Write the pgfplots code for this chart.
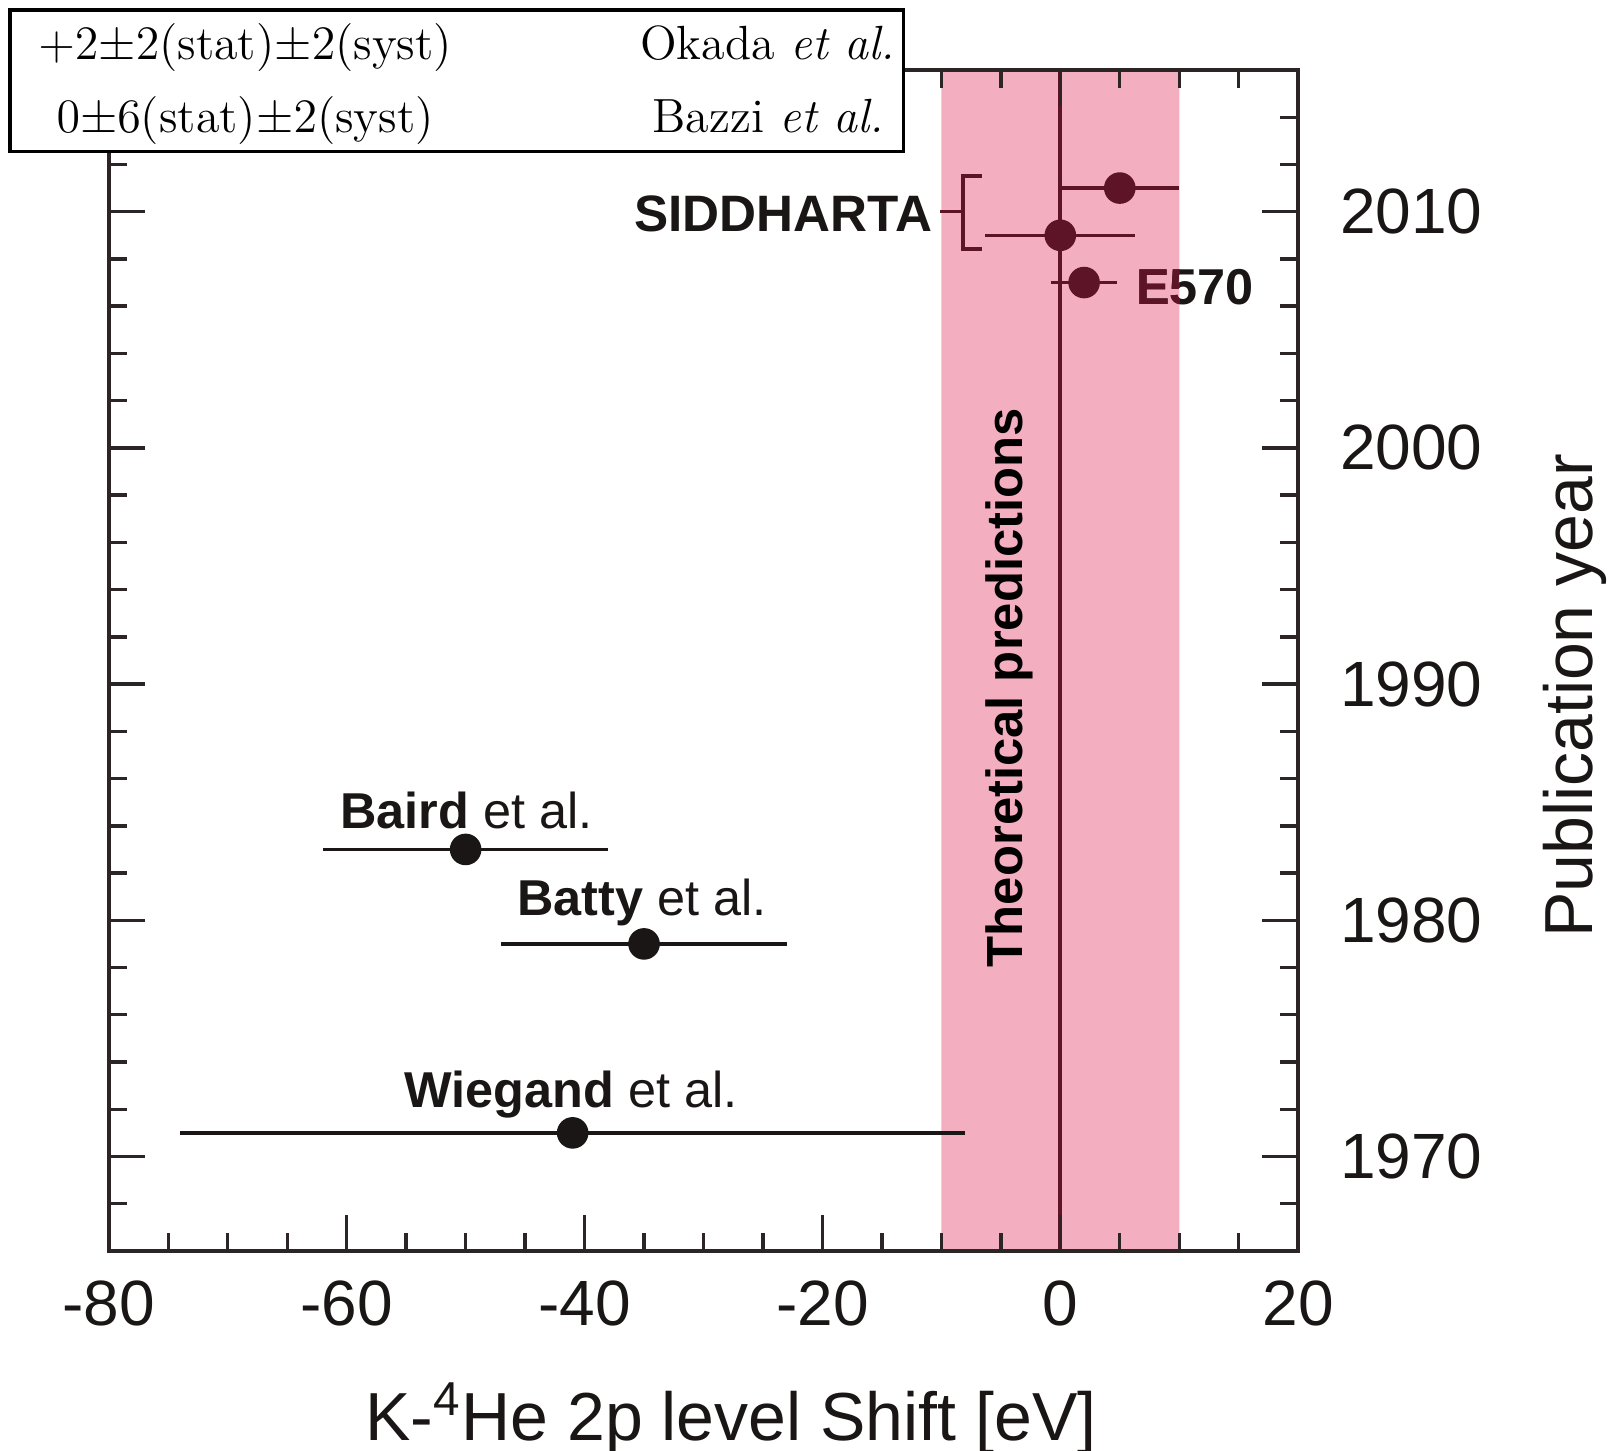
\documentclass[border=0pt]{standalone}
\usepackage{pgfplots}
\pgfplotsset{compat=1.18}
\usepackage{fontspec}
\newfontfamily\lsans{Liberation Sans}
\definecolor{pinkband}{HTML}{F3AEC0}
\definecolor{maroon}{HTML}{5D1427}
\definecolor{axgray}{HTML}{2B2526}
\definecolor{txt}{HTML}{1A1616}

\begin{document}
\begin{tikzpicture}
\useasboundingbox (-27.2pt,-50pt) rectangle (375.05pt,312.75pt);
\begin{axis}[
  at={(0,0)}, anchor=south west,
  scale only axis, width=297.35pt, height=295.25pt,
  xmin=-80, xmax=20, ymin=1966, ymax=2016,
  clip=false, axis on top,
  xtick={-80,-60,-40,-20,0,20},
  xticklabels={-80,-60,-40,-20,0,20},
  minor xtick={-75,-70,...,15},
  ytick={1970,1980,1990,2000,2010},
  yticklabels={1970,1980,1990,2000,2010},
  minor ytick={1968,1970,...,2014},
  tick align=inside,
  xticklabel pos=bottom, yticklabel pos=right,
  major tick length=9pt, minor tick length=4.5pt,
  axis line style={line width=1pt, draw=axgray},
  tick style={line width=0.85pt, draw=axgray},
  /pgf/number format/assume math mode=true,
  xticklabel style={font=\lsans\fontsize{16}{19}\selectfont, text=txt, anchor=base, yshift=-18.75pt, inner sep=0pt},
  yticklabel style={font=\lsans\fontsize{16}{19}\selectfont, text=txt, anchor=west, xshift=10.3pt, inner sep=0pt},
  xlabel={K-\textsuperscript{4}He 2p level Shift [eV]},
  ylabel={Publication year},
  every axis x label/.style={at={(rel axis cs:0.523,-0.1607)}, anchor=base, inner sep=0pt, font=\lsans\fontsize{17}{20}\selectfont, text=txt},
  every axis y label/.style={at={(rel axis cs:1.2055,0.47)}, anchor=north, rotate=90, inner sep=0pt, font=\lsans\fontsize{17}{20}\selectfont, text=txt},
]
% theoretical band
\addplot[fill=pinkband, draw=none] coordinates {(-10,1966) (10,1966) (10,2016) (-10,2016)} \closedcycle;
% vertical zero line
\addplot[maroon, line width=1pt] coordinates {(0,1966) (0,2016)};
% old measurements
\addplot[only marks, mark=*, mark size=3.75pt, color=txt,
  error bars/.cd, x dir=both, x explicit, error mark=none,
  error bar style={line width=0.9pt, color=txt}]
  table[x=x, y=y, x error=e] {
x y e
-41 1971 33
-35 1979 12
-50 1983 12
};
% recent measurements
\addplot[only marks, mark=*, mark size=3.75pt, color=maroon,
  error bars/.cd, x dir=both, x explicit, error mark=none,
  error bar style={line width=0.9pt, color=maroon}]
  table[x=x, y=y, x error=e] {
x y e
2 2007 2.8
0 2009 6.3
5 2011 5
};
% bracket
\draw[maroon, line width=0.9pt] (axis cs:-6.6,2011.5) -- (axis cs:-8.2,2011.5) -- (axis cs:-8.2,2008.43) -- (axis cs:-6.6,2008.43);
\draw[maroon, line width=0.9pt] (axis cs:-8.2,2010) -- (axis cs:-10.15,2010);
% labels
\node[anchor=base west, inner sep=0pt, font=\lsans\fontsize{12.6}{15}\selectfont, text=txt] at (axis cs:-60.6,1983.9) {\bfseries Baird\mdseries{} et al.};
\node[anchor=base west, inner sep=0pt, font=\lsans\fontsize{12.6}{15}\selectfont, text=txt] at (axis cs:-45.7,1980.19) {\bfseries Batty\mdseries{} et al.};
\node[anchor=base west, inner sep=0pt, font=\lsans\fontsize{12.6}{15}\selectfont, text=txt] at (axis cs:-55.2,1972.07) {\bfseries Wiegand\mdseries{} et al.};
\node[anchor=base east, inner sep=0pt, font=\lsans\bfseries\fontsize{12.8}{15}\selectfont, text=txt] at (axis cs:-10.7,2009.17) {SIDDHARTA};
\node[anchor=base west, inner sep=0pt, font=\lsans\bfseries\fontsize{12.6}{15}\selectfont, text=txt] at (axis cs:6.3,2006.06) {E570};
\node[anchor=base, rotate=90, inner sep=0pt, font=\lsans\bfseries\fontsize{12.7}{15}\selectfont, text=black] at (axis cs:-3.2,1989.85) {Theoretical predictions};
\coordinate (eLab) at (axis cs:6.3,2006.06);
\coordinate (bandA) at (axis cs:-10,1966);
\coordinate (bandB) at (axis cs:10,2016);
\end{axis}
% part of E570 label over the band
\begin{scope}
\clip (bandA) rectangle (bandB);
\node[anchor=base west, inner sep=0pt, font=\lsans\bfseries\fontsize{12.6}{15}\selectfont, text=maroon] at (eLab) {E570};
\end{scope}
% reference box
\draw[line width=0.85pt, fill=white] (-24.65pt,274.8pt) rectangle (198.7pt,310.2pt);
\node[anchor=base, inner sep=0pt, font=\fontsize{12}{14}\selectfont] at (34.1pt,297.8pt) {${+}2{\pm}2$(stat)${\pm}2$(syst)};
\node[anchor=base, inner sep=0pt, font=\fontsize{12}{14}\selectfont] at (34.1pt,279.6pt) {$0{\pm}6$(stat)${\pm}2$(syst)};
\node[anchor=base, inner sep=0pt, font=\fontsize{12}{14}\selectfont] at (164.7pt,297.8pt) {Okada \textit{et al.}};
\node[anchor=base, inner sep=0pt, font=\fontsize{12}{14}\selectfont] at (164.9pt,279.6pt) {Bazzi \textit{et al.}};
\end{tikzpicture}
\end{document}
